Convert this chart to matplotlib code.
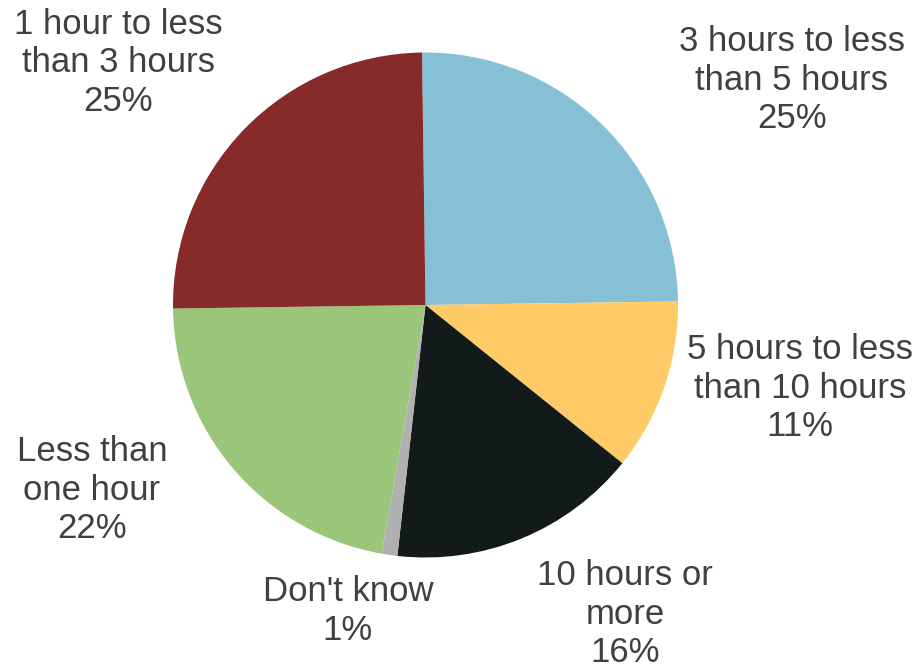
import matplotlib.pyplot as plt

plt.rcParams["font.family"] = ["Liberation Sans", "DejaVu Sans"]

labels = ["3 hours to less\nthan 5 hours", "5 hours to less\nthan 10 hours", "10 hours or\nmore",
          "Don't know", "Less than\none hour", "1 hour to less\nthan 3 hours"]
shares = [25, 11, 16, 1, 22, 25]
colors = ["#85C0D5", "#FECB66", "#131A1A", "#B0B0B0", "#9BC67A", "#872A2A"]

# label block centres, in pixels of the 920x669 figure
label_pos = [(792, 80), (800, 388), (625, 614), (348, 611), (92, 490), (118, 63)]

W, H = 920, 669
fig = plt.figure(figsize=(W / 100, H / 100), dpi=100)

# pie centre (425, 305) px, radius 252 px
cx, cy, r = 425.5, 305, 252.5
ax = fig.add_axes([(cx - r) / W, (H - cy - r) / H, 2 * r / W, 2 * r / H])
ax.pie(shares, colors=colors, startangle=90.8, counterclock=False,
       wedgeprops=dict(linewidth=0), radius=1.0)
ax.set_xlim(-1, 1)
ax.set_ylim(-1, 1)
ax.set_aspect("auto")
ax.axis("off")

for lab, val, (x, y) in zip(labels, shares, label_pos):
    fig.text(x / W, 1 - y / H, f"{lab}\n{val}%", ha="center", va="center",
             fontsize=25, color="#404040", linespacing=1.22)

fig.savefig("out.png", dpi=100)
